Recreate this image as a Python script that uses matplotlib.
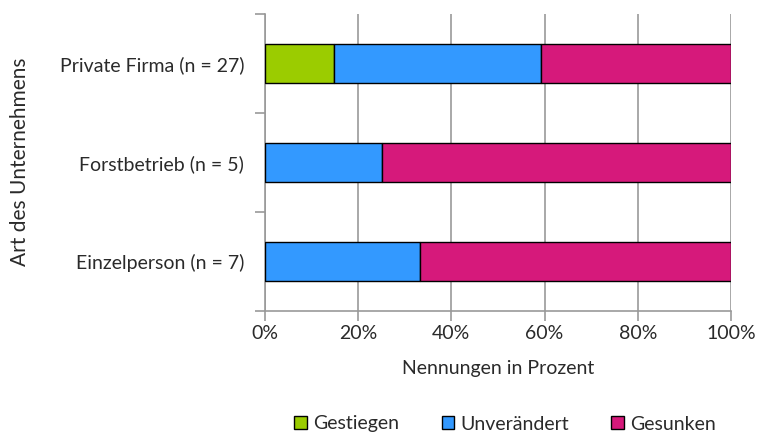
import numpy as np
import matplotlib
matplotlib.use('Agg')
import matplotlib.pyplot as plt
from matplotlib.ticker import FixedLocator, FuncFormatter

plt.rcParams['font.family'] = ['Lato', 'DejaVu Sans']

# data (percent), categories listed top to bottom
categories = ['Private Firma (n = 27)', 'Forstbetrieb (n = 5)', 'Einzelperson (n = 7)']
gestiegen = [14.8, 0.0, 0.0]
unveraendert = [44.4, 25.0, 33.3]
gesunken = [40.8, 75.0, 66.7]

series = [('Gestiegen', gestiegen, '#9BCC00'),
          ('Unverändert', unveraendert, '#3399FF'),
          ('Gesunken', gesunken, '#D6197B')]

txt = '#2a2a2a'
fs = 14

fig = plt.figure(figsize=(7.57, 4.34), dpi=100)
ax = fig.add_axes([265/757, 1-311/434, 466/757, 297/434])

y = np.arange(len(categories))[::-1]
left = np.zeros(len(categories))
for name, vals, col in series:
    vals = np.array(vals)
    ax.barh(y, vals, left=left, height=0.4, color=col, edgecolor='black',
            linewidth=1.0, label=name, zorder=3)
    left += vals

ax.set_xlim(0, 100)
ax.set_ylim(-0.5, 2.5)
ax.set_xticks(np.arange(0, 101, 20))
ax.xaxis.set_major_formatter(FuncFormatter(lambda v, p: '%d%%' % v))
ax.grid(axis='x', color='#999999', linewidth=1.2, zorder=0)

# y ticks at the category boundaries, labels at the centres
ax.yaxis.set_major_locator(FixedLocator([-0.5, 0.5, 1.5, 2.5]))
ax.yaxis.set_major_formatter(FuncFormatter(lambda v, p: ''))
ax.yaxis.set_minor_locator(FixedLocator(y))
ax.set_yticklabels(categories, minor=True)
ax.tick_params(axis='y', which='minor', length=0, pad=15, labelsize=fs, labelcolor=txt)
ax.tick_params(axis='y', which='major', length=7, color='#999999', width=1.2)
ax.tick_params(axis='x', length=7, color='#999999', width=1.2, labelsize=fs,
               labelcolor=txt, pad=3)

for s in ['top', 'right']:
    ax.spines[s].set_visible(False)
for s in ['left', 'bottom']:
    ax.spines[s].set_color('#999999')
    ax.spines[s].set_linewidth(1.2)

ax.set_xlabel('Nennungen in Prozent', fontsize=fs, color=txt, labelpad=13)
fig.text(20/757, 1-162/434, 'Art des Unternehmens', rotation=90, ha='center',
         va='center', fontsize=15, color=txt)

leg = fig.legend(loc='center', bbox_to_anchor=(505/757, 1-424/434), ncol=3,
                 frameon=False, fontsize=fs, handlelength=0.65, handleheight=0.65,
                 handletextpad=0.3, columnspacing=2.2, labelcolor=txt)

fig.savefig('out.png', dpi=100)
